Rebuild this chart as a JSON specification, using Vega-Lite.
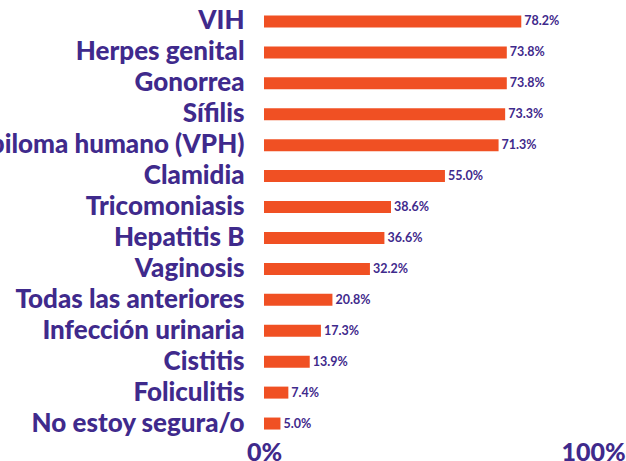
{
  "$schema": "https://vega.github.io/schema/vega-lite/v6.json",
  "autosize": {"type": "none"},
  "padding": {"left": 264, "top": 6, "right": 33, "bottom": 22},
  "width": 329,
  "height": 433,
  "background": "white",
  "data": {"values": [
    {"cat": "VIH", "v": 0.782},
    {"cat": "Herpes genital ", "v": 0.738},
    {"cat": "Gonorrea", "v": 0.738},
    {"cat": "Sífilis", "v": 0.733},
    {"cat": "Virus del papiloma humano (VPH)", "v": 0.713},
    {"cat": "Clamidia", "v": 0.55},
    {"cat": "Tricomoniasis", "v": 0.386},
    {"cat": "Hepatitis B", "v": 0.366},
    {"cat": "Vaginosis", "v": 0.322},
    {"cat": "Todas las anteriores", "v": 0.208},
    {"cat": "Infección urinaria", "v": 0.173},
    {"cat": "Cistitis", "v": 0.139},
    {"cat": "Foliculitis", "v": 0.074},
    {"cat": "No estoy segura/o", "v": 0.05}
  ]},
  "config": {"view": {"stroke": null}, "font": "Lato"},
  "encoding": {
    "y": {"field": "cat", "type": "nominal", "sort": null, "title": null,
      "axis": {"domain": false, "ticks": false, "labelPadding": 20, "labelFontSize": 26, "labelFontWeight": 900, "labelColor": "#3f2a8c", "labelLimit": 0, "labelFont": "Lato"}},
    "x": {"field": "v", "type": "quantitative", "scale": {"domain": [0, 1]}, "title": null,
      "axis": {"values": [0, 1], "format": ".0%", "domain": false, "ticks": false, "grid": false, "labelFontSize": 25, "labelFontWeight": 900, "labelColor": "#3f2a8c", "labelPadding": 1, "labelFlush": false, "labelFont": "Lato"}}
  },
  "layer": [
    {"mark": {"type": "bar", "color": "#f05023", "height": 12}},
    {"mark": {"type": "text", "align": "left", "dx": 3, "fontSize": 12.5, "fontWeight": "bold", "color": "#3f2a8c"},
     "encoding": {"text": {"field": "v", "type": "quantitative", "format": ".1%"}}}
  ]
}
